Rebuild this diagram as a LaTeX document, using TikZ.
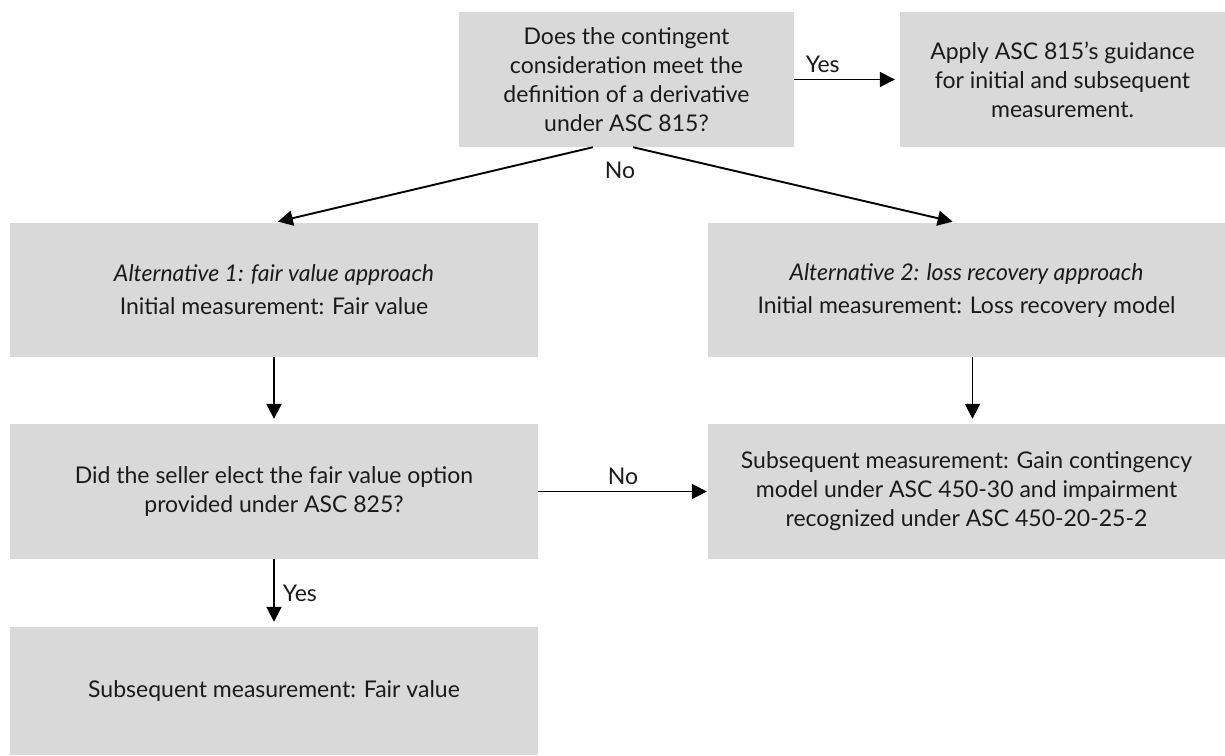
\documentclass[tikz,border=0pt]{standalone}
\usepackage{fontspec}
\setmainfont{Lato}
\usetikzlibrary{arrows.meta, positioning, calc}
\definecolor{boxgray}{HTML}{D9D9D9}
\definecolor{inkgray}{HTML}{1A1A1A}

\begin{document}
\begin{tikzpicture}[x=1pt, y=-1pt,
  box/.style={rectangle, fill=boxgray, inner sep=0pt, align=center, text=inkgray, font=\fontsize{23}{29}\selectfont},
  lbl/.style={font=\fontsize{23}{29}\selectfont, text=inkgray, inner sep=2pt},
  arr/.style={line width=1.9pt, -{Triangle[length=15pt,width=15pt]}, shorten >=5pt}]
  \useasboundingbox (0,0) rectangle (1225,755);
  % boxes
  \node[box, minimum width=335pt, minimum height=135pt] (q1) at (626.5,79.5)
    {Does the contingent\\consideration meet the\\definition of a derivative\\under ASC 815?};
  \node[box, minimum width=325pt, minimum height=135pt] (apply) at (1062.5,79.5)
    {Apply ASC 815's guidance\\for initial and subsequent\\measurement.};
  \node[box, minimum width=528pt, minimum height=134pt] (alta) at (274,290)
    {\textit{Alternative 1: fair value approach}\\[4pt]Initial measurement: Fair value};
  \node[box, minimum width=517pt, minimum height=134pt] (altb) at (966.5,290)
    {\textit{Alternative 2: loss recovery approach}\\[4pt]Initial measurement: Loss recovery model};
  \node[box, minimum width=528pt, minimum height=135pt] (qsel) at (274,491.5)
    {Did the seller elect the fair value option\\provided under ASC 825?};
  \node[box, minimum width=517pt, minimum height=135pt] (subb) at (966.5,491.5)
    {Subsequent measurement: Gain contingency\\model under ASC 450-30 and impairment\\recognized under ASC 450-20-25-2};
  \node[box, minimum width=528pt, minimum height=128pt] (subfv) at (274,691)
    {Subsequent measurement: Fair value};
  % connectors
  \draw[arr] (q1) -- (apply) node[lbl, pos=0.27, above=4pt] (yesa) {Yes};
  \draw[arr] ([xshift=-33.5pt]q1.south) -- ([xshift=-1pt]alta.north);
  \draw[arr] ([xshift=6.5pt]q1.south) -- ([xshift=-9pt]altb.north);
  \node[lbl] (noa) at (620,170) {No};
  \draw[arr] (alta) -- (qsel);
  \draw[arr] ([xshift=6pt]altb.south) -- ([xshift=6pt]subb.north);
  \draw[arr, shorten >=1pt] (qsel) -- (subb) node[lbl, midway, above=4pt] (nob) {No};
  \draw[arr] (qsel) -- (subfv) node[lbl, midway, right=6pt] (yesb) {Yes};
\end{tikzpicture}
\end{document}
